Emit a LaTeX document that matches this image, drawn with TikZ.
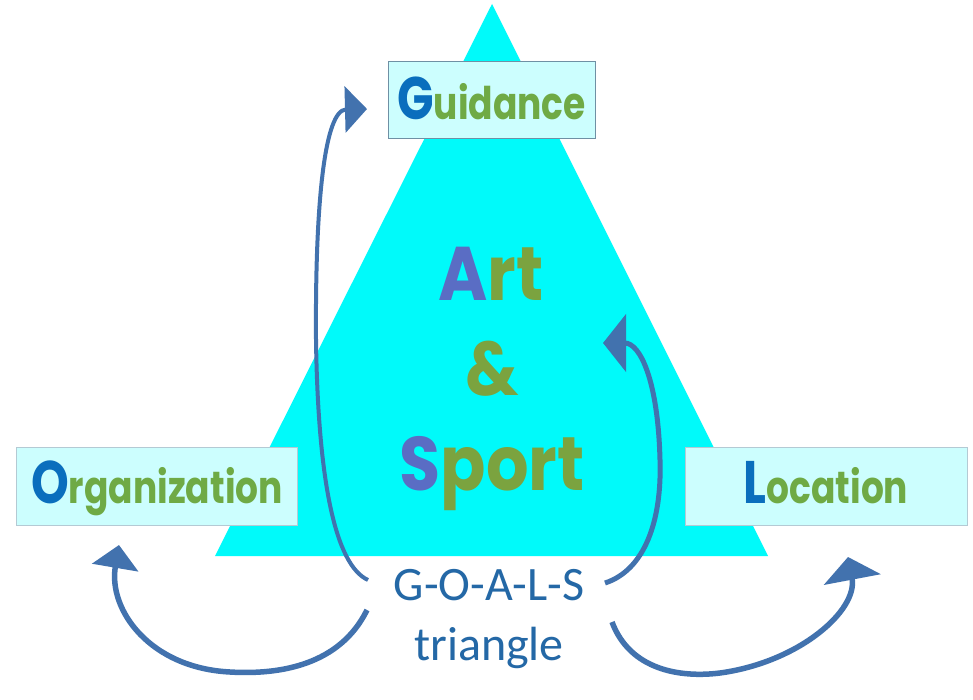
\documentclass[tikz,border=0pt]{standalone}
\usepackage{fontspec}
\usetikzlibrary{arrows.meta}
\newfontfamily\geofont{Poppins}[FakeStretch=0.8]
\newfontfamily\artfont{Poppins}[FakeStretch=0.88]
\newfontfamily\goalsfont{Carlito}
\definecolor{boxblue}{HTML}{0A6EBD}
\definecolor{boxgreen}{HTML}{6FAA45}
\definecolor{artblue}{HTML}{5A6DC4}
\definecolor{artgreen}{HTML}{7BA33F}
\definecolor{goalsblue}{HTML}{2468A6}
\definecolor{arrowblue}{HTML}{4272AE}
\definecolor{cyanfill}{HTML}{00FAFA}
\definecolor{boxfill}{HTML}{CCFEFE}
\definecolor{boxline}{HTML}{B4CAD4}
\definecolor{boxlinedark}{HTML}{6F90A4}
\newcommand\glabel[2]{{\fontsize{60}{60}\selectfont\color{boxblue}#1}{\fontsize{45}{45}\selectfont\color{boxgreen}#2}}
\begin{document}
\begin{tikzpicture}[x=1pt,y=-1pt,
  labelbox/.style={draw=boxline, line width=1pt, fill=boxfill, inner sep=0pt,
    font=\geofont\bfseries, text depth=0pt},
  arttext/.style={anchor=base, inner sep=0pt, font=\artfont\bfseries\fontsize{76}{76}\selectfont},
  goalstext/.style={align=center, inner sep=0pt, text=goalsblue,
    font=\goalsfont\fontsize{48}{60}\selectfont},
  curvearrow/.style={draw=arrowblue, fill=none, line cap=butt}
]
\useasboundingbox[fill=white] (0,0) rectangle (973,700);

% triangle
\path[fill=cyanfill] (492,4) -- (768,556) -- (215,556) -- cycle;

% boxes
\node[labelbox, draw=boxlinedark, minimum width=207pt, minimum height=77pt, text height=39pt]
  (guid) at (491.5,100.5) {\glabel{G}{uidance}};
\node[labelbox, minimum width=281pt, minimum height=78pt, text height=34pt]
  (org) at (157,486) {\glabel{O}{rganization}};
\node[labelbox, minimum width=282pt, minimum height=78pt, text height=34pt]
  (loc) at (826,486) {\glabel{L}{ocation}};

% Art & Sport
\node[arttext] (art) at (491,300) {\color{artblue}A\color{artgreen}rt};
\node[arttext] (amp) at (492,395) {\color{artgreen}\&};
\node[arttext] (sport) at (492,490) {\color{artblue}S\color{artgreen}port};

% GOALS text (base anchor = baseline of the last line)
\node[goalstext, anchor=base] (goals) at (489,660) {G-O-A-L-S\\triangle};

% arrow end points
\coordinate (t1) at (368,580);
\coordinate (h1) at (367,109);
\coordinate (t2) at (605,583);
\coordinate (h2) at (603,343);
\coordinate (t3) at (367,610);
\coordinate (h3) at (119,545);
\coordinate (t4) at (612,622);
\coordinate (h4) at (848,557);

\draw[curvearrow, line width=4pt, -{Triangle[length=22pt,width=46pt]}]
  (t1) .. controls (335,565) and (318,480) .. (316,340)
       .. controls (315,200) and (325,110) .. (h1);
\draw[curvearrow, line width=5pt, -{Triangle[length=23pt,width=57pt]}]
  (t2) .. controls (645,570) and (662,520) .. (660,460)
       .. controls (658,380) and (640,343) .. (h2);
\draw[curvearrow, line width=5.5pt, -{Triangle[length=23pt,width=46pt]}]
  (t3) .. controls (340,665) and (280,675) .. (230,672)
       .. controls (150,668) and (108,610) .. (h3);
\draw[curvearrow, line width=5.5pt, -{Triangle[length=23pt,width=57pt]}]
  (t4) .. controls (630,670) and (680,678) .. (720,673)
       .. controls (800,662) and (858,610) .. (h4);
\end{tikzpicture}
\end{document}
